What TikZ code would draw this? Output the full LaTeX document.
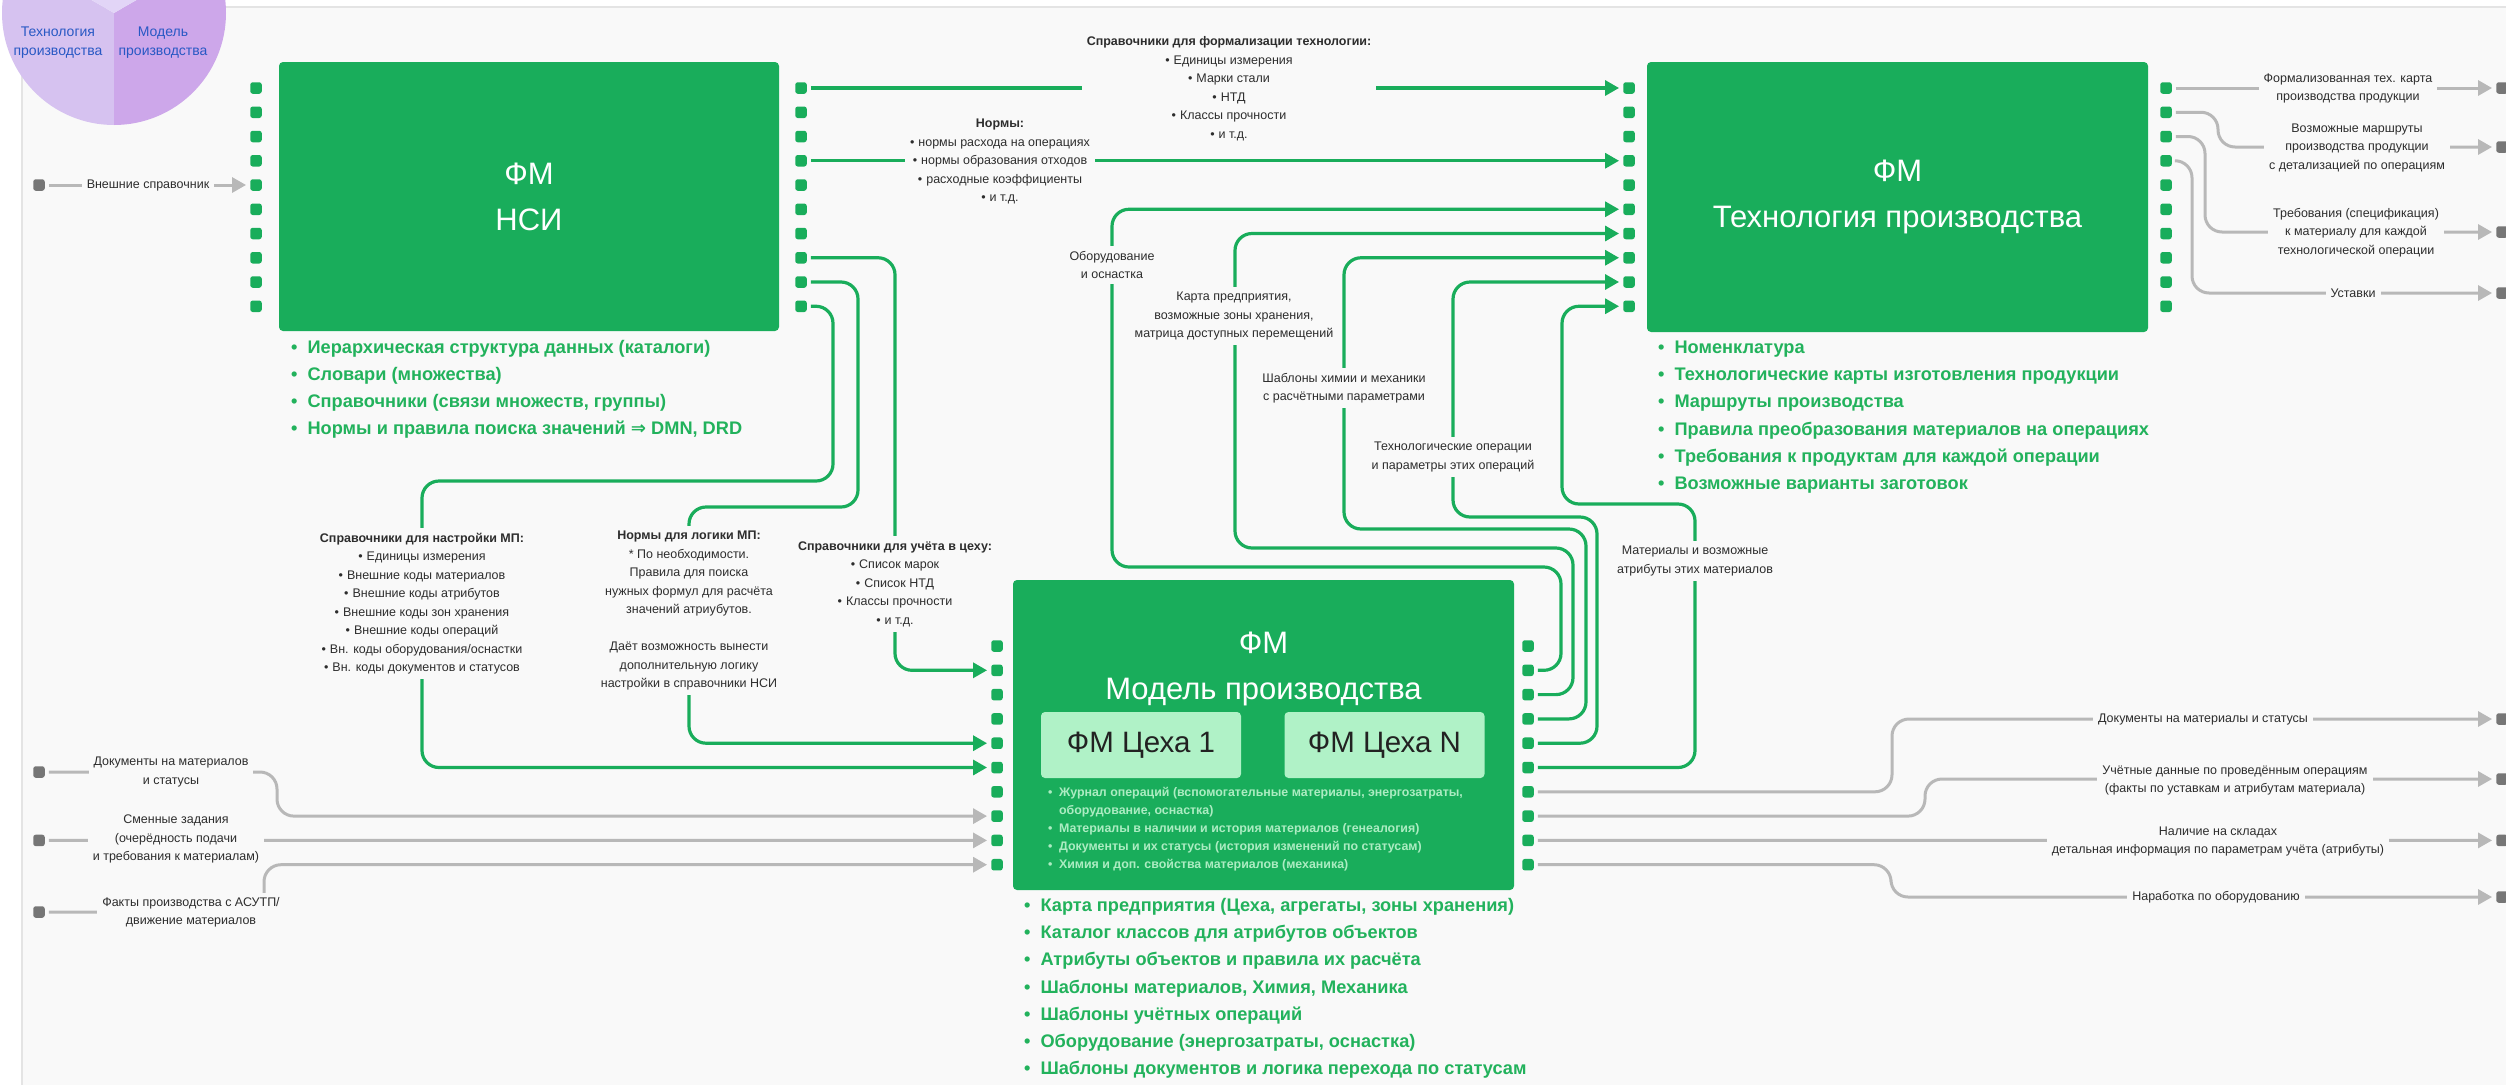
\documentclass[tikz,border=0pt]{standalone}
\usepackage{fontspec}
\setmainfont{Liberation Sans}
\newfontfamily\symfont{DejaVu Sans}
\usetikzlibrary{arrows.meta}

\definecolor{fmgreen}{RGB}{25,173,91}
\definecolor{cehgreen}{RGB}{176,242,199}
\definecolor{cehtext}{RGB}{34,34,34}
\definecolor{listgreen}{RGB}{34,178,92}
\definecolor{innertext}{RGB}{172,236,194}
\definecolor{wiregray}{RGB}{184,184,184}
\definecolor{extgray}{RGB}{118,118,118}
\definecolor{pagebg}{RGB}{249,249,249}
\definecolor{bordergray}{RGB}{228,228,228}
\definecolor{labeltext}{RGB}{45,45,45}
\definecolor{pieLeft}{RGB}{214,194,240}
\definecolor{pieRight}{RGB}{205,167,234}
\definecolor{pieTop}{RGB}{226,213,247}
\definecolor{pieText}{RGB}{40,88,196}

\newcommand\fsLabel{\fontsize{12.5}{18.5}\selectfont}
\newcommand\fsBig{\fontsize{31}{46}\selectfont}
\newcommand\fsCeh{\fontsize{29.5}{34}\selectfont}
\newcommand\fsList{\fontsize{18.2}{27}\selectfont\bfseries}
\newcommand\fsInner{\fontsize{12.4}{18}\selectfont\bfseries}
\newcommand\fsPie{\fontsize{14}{19}\selectfont}
\newcommand\dotitem{•\hspace{4pt}}

\tikzset{
  fmbox/.style={fill=fmgreen, rounded corners=4pt, text=white, align=center, font=\fsBig, inner sep=0pt},
  cehbox/.style={fill=cehgreen, rounded corners=4pt, text=cehtext, font=\fsCeh, minimum width=200pt, minimum height=66pt, inner sep=0pt},
  port/.style={fill=fmgreen, rounded corners=2.5pt, minimum width=11.5pt, minimum height=11.5pt, inner sep=0pt},
  extport/.style={port, fill=extgray},
  gwire/.style={draw=fmgreen, line width=3.2pt, rounded corners=17pt, shorten <=4pt, shorten >=4pt, -{Triangle[length=14pt,width=15pt]}},
  wire/.style={draw=wiregray, line width=3pt, rounded corners=17pt, shorten <=4pt, shorten >=4pt, -{Triangle[length=14pt,width=15pt]}},
  tag/.style={fill=pagebg, text=labeltext, font=\fsLabel, align=center, inner xsep=5pt, inner ysep=4pt},
  vtag/.style={tag, inner xsep=2pt, inner ysep=5pt},
  listline/.style={anchor=base west, inner sep=0pt, text=listgreen, font=\fsList},
  innerline/.style={anchor=base west, inner sep=0pt, text=innertext, font=\fsInner},
}

\begin{document}
\begin{tikzpicture}[x=1pt,y=-1pt]
\useasboundingbox (0,0) rectangle (2506,1085);

% page
\fill[white] (0,0) rectangle (2506,1085);
\fill[pagebg] (22,7) rectangle (2506,1085);
\draw[line width=1.5pt, draw=bordergray] (22,1085) -- (22,7) -- (2506,7);

% three-slice badge in the corner
\fill[pieLeft] (114,13) -- ++(90:112) arc[start angle=90, end angle=210, radius=112] -- cycle;
\fill[pieRight] (114,13) -- ++(90:112) arc[start angle=90, end angle=-30, radius=112] -- cycle;
\fill[pieTop] (114,13) -- ++(-30:112) arc[start angle=-30, end angle=-150, radius=112] -- cycle;
\node[font=\fsPie, text=pieText, align=center] (pieTech) at (58,42.5) {Технология\\производства};
\node[font=\fsPie, text=pieText, align=center] (pieModel) at (163,42.5) {Модель\\производства};

% ports
\foreach \i in {1,...,10} {
  \pgfmathsetmacro\py{88+(\i-1)*24.25}
  \pgfmathsetmacro\my{646+(\i-1)*24.3}
  \node[port] (nsiL\i) at (256,\py) {};
  \node[port] (nsiR\i) at (801,\py) {};
  \node[port] (tecL\i) at (1629,\py) {};
  \node[port] (tecR\i) at (2166,\py) {};
  \node[port] (mpL\i) at (997,\my) {};
  \node[port] (mpR\i) at (1528,\my) {};
}

% external sources and sinks
\node[extport] (extNsi) at (39,185) {};
\node[extport] (extIn1) at (39,772) {};
\node[extport] (extIn2) at (39,840.4) {};
\node[extport] (extIn3) at (39,912) {};
\node[extport] (outT1) at (2502,88) {};
\node[extport] (outT2) at (2502,147) {};
\node[extport] (outT3) at (2502,232) {};
\node[extport] (outT4) at (2502,293) {};
\node[extport] (outM1) at (2502,719) {};
\node[extport] (outM2) at (2502,779) {};
\node[extport] (outM3) at (2502,840.4) {};
\node[extport] (outM4) at (2502,897) {};

% NSI -> technology
\draw[gwire] (nsiR1) -- (tecL1);
\draw[gwire] (nsiR4) -- (tecL4);

% production model -> technology
\draw[gwire] (mpR2) -- (1561,0 |- mpR2) -- (1561,567) -- (1112,567) -- (1112,0 |- tecL6) -- (tecL6);
\draw[gwire] (mpR3) -- (1573,0 |- mpR3) -- (1573,548) -- (1235,548) -- (1235,0 |- tecL7) -- (tecL7);
\draw[gwire] (mpR4) -- (1586,0 |- mpR4) -- (1586,529) -- (1344,529) -- (1344,0 |- tecL8) -- (tecL8);
\draw[gwire] (mpR5) -- (1597,0 |- mpR5) -- (1597,517) -- (1453,517) -- (1453,0 |- tecL9) -- (tecL9);
\draw[gwire] (mpR6) -- (1695,0 |- mpR6) -- (1695,504) -- (1562,504) -- (1562,0 |- tecL10) -- (tecL10);

% NSI -> production model
\draw[gwire] (nsiR8) -- (895,0 |- nsiR8) -- (895,0 |- mpL2) -- (mpL2);
\draw[gwire] (nsiR9) -- (858,0 |- nsiR9) -- (858,507) -- (689,507) -- (689,0 |- mpL5) -- (mpL5);
\draw[gwire] (nsiR10) -- (833,0 |- nsiR10) -- (833,481) -- (422,481) -- (422,0 |- mpL6) -- (mpL6);

% external inputs
\draw[wire] (extNsi) -- (nsiL5);
\draw[wire] (extIn1) -- (277,0 |- extIn1) -- (277,0 |- mpL8) -- (mpL8);
\draw[wire] (extIn2) -- (mpL9);
\draw[wire] (extIn3) -- (264,0 |- extIn3) -- (264,0 |- mpL10) -- (mpL10);

% outputs of technology
\draw[wire] (tecR1) -- (outT1);
\draw[wire] (tecR2) -- (2218,0 |- tecR2) -- (2218,0 |- outT2) -- (outT2);
\draw[wire] (tecR3) -- (2205,0 |- tecR3) -- (2205,0 |- outT3) -- (outT3);
\draw[wire] (tecR4) -- (2192,0 |- tecR4) -- (2192,0 |- outT4) -- (outT4);

% outputs of production model
\draw[wire] (mpR7) -- (1892,0 |- mpR7) -- (1892,0 |- outM1) -- (outM1);
\draw[wire] (mpR8) -- (1925,0 |- mpR8) -- (1925,0 |- outM2) -- (outM2);
\draw[wire] (mpR9) -- (outM3);
\draw[wire] (mpR10) -- (1891,0 |- mpR10) -- (1891,0 |- outM4) -- (outM4);

% connector labels
\node[tag] (lblFormal) at (1229,88.5) {\textbf{Справочники для формализации технологии:}\\\dotitem Единицы измерения\\\dotitem Марки стали\\\dotitem НТД\\\dotitem Классы прочности\\\dotitem и т.д.};
\node[tag] (lblNorms) at (1000,161.5) {\textbf{Нормы:}\\\dotitem нормы расхода на операциях\\\dotitem нормы образования отходов\\\dotitem расходные коэффициенты\\\dotitem и т.д.};
\node[vtag] (lblEquip) at (1112,265) {Оборудование\\и оснастка};
\node[vtag] (lblMap) at (1234,316) {Карта предприятия,\\возможные зоны хранения,\\матрица доступных перемещений};
\node[vtag] (lblChem) at (1344,388) {Шаблоны химии и механики\\с расчётными параметрами};
\node[vtag] (lblOps) at (1453,457) {Технологические операции\\и параметры этих операций};
\node[vtag] (lblMat) at (1695,561) {Материалы и возможные\\атрибуты этих материалов};

\node[vtag] (lblSetup) at (422,603.5) {\textbf{Справочники для настройки МП:}\\\dotitem Единицы измерения\\\dotitem Внешние коды материалов\\\dotitem Внешние коды атрибутов\\\dotitem Внешние коды зон хранения\\\dotitem Внешние коды операций\\\dotitem Вн. коды оборудования/оснастки\\\dotitem Вн. коды документов и статусов};
\node[vtag] (lblLogic) at (689,610.5) {\textbf{Нормы для логики МП:}\\* По необходимости.\\Правила для поиска\\нужных формул для расчёта\\значений атриубутов.\\[18.5pt]Даёт возможность вынести\\дополнительную логику\\настройки в справочники НСИ};
\node[vtag] (lblShop) at (895,584) {\textbf{Справочники для учёта в цеху:}\\\dotitem Список марок\\\dotitem Список НТД\\\dotitem Классы прочности\\\dotitem и т.д.};

\node[tag] (lblExtRef) at (148,185) {Внешние справочник};
\node[tag] (lblDocsIn) at (171,772) {Документы на материалов\\и статусы};
\node[tag] (lblShift) at (176,839) {Сменные задания\\(очерёдность подачи\\и требования к материалам)};
\node[tag] (lblFacts) at (191,912.5) {Факты производства с АСУТП/\\движение материалов};

\node[tag] (lblTechMap) at (2348,88.5) {Формализованная тех. карта\\производства продукции};
\node[tag] (lblRoutes) at (2357,147.5) {Возможные маршруты\\производства продукции\\с детализацией по операциям};
\node[tag] (lblReq) at (2356,232.5) {Требования (спецификация)\\к материалу для каждой\\технологической операции};
\node[tag] (lblSet) at (2353,293) {Уставки};
\node[tag] (lblDocsOut) at (2203,719) {Документы на материалы и статусы};
\node[tag] (lblAcc) at (2235,780.5) {Учётные данные по проведённым операциям\\(факты по уставкам и атрибутам материала)};
\node[tag] (lblStock) at (2218,841.5) {Наличие на складах\\детальная информация по параметрам учёта (атрибуты)};
\node[tag] (lblWear) at (2216,897) {Наработка по оборудованию};

% functional models
\node[fmbox, minimum width=500pt, minimum height=269pt] (nsi) at (529,196.5) {ФМ\\НСИ};
\node[fmbox, minimum width=501pt, minimum height=270pt] (tec) at (1897.5,197) {ФМ\\Технология производства};
\node[fmbox, minimum width=501pt, minimum height=310pt] (mp) at (1263.5,735) {};
\node[text=white, font=\fsBig, align=center, inner sep=0pt] (mpTitle) at (1263.5,668.5) {ФМ\\Модель производства};
\node[cehbox] (ceh1) at (1141,745) {ФМ Цеха 1};
\node[cehbox] (cehN) at (1384.5,745) {ФМ Цеха N};

% contents of the production model
\node[innerline] (mpIn1) at (1048,796.8) {•\hspace{6.5pt}Журнал операций (вспомогательные материалы, энергозатраты,};
\node[innerline] (mpIn1b) at (1048,814.8) {\phantom{•}\hspace{6.5pt}оборудование, оснастка)};
\node[innerline] (mpIn2) at (1048,832.8) {•\hspace{6.5pt}Материалы в наличии и история материалов (генеалогия)};
\node[innerline] (mpIn3) at (1048,850.8) {•\hspace{6.5pt}Документы и их статусы (история изменений по статусам)};
\node[innerline] (mpIn4) at (1048,868.8) {•\hspace{6.5pt}Химия и доп. свойства материалов (механика)};

% lists under the models
\foreach \txt [count=\k] in {{Иерархическая структура данных (каталоги)}, {Словари (множества)}, {Справочники (связи множеств, группы)}, {Нормы и правила поиска значений {\symfont ⇒} DMN, DRD}}
  \node[listline] (nsiItem\k) at (291,353.5+27*\k-27) {•\hspace{10pt}\txt};

\foreach \txt [count=\k] in {{Номенклатура}, {Технологические карты изготовления продукции}, {Маршруты производства}, {Правила преобразования материалов на операциях}, {Требования к продуктам для каждой операции}, {Возможные варианты заготовок}}
  \node[listline] (tecItem\k) at (1658,353.5+27.2*\k-27.2) {•\hspace{10pt}\txt};

\foreach \txt [count=\k] in {{Карта предприятия (Цеха, агрегаты, зоны хранения)}, {Каталог классов для атрибутов объектов}, {Атрибуты объектов и правила их расчёта}, {Шаблоны материалов, Химия, Механика}, {Шаблоны учётных операций}, {Оборудование (энергозатраты, оснастка)}, {Шаблоны документов и логика перехода по статусам}}
  \node[listline] (mpItem\k) at (1024,911.5+27.2*\k-27.2) {•\hspace{10pt}\txt};

\end{tikzpicture}
\end{document}
